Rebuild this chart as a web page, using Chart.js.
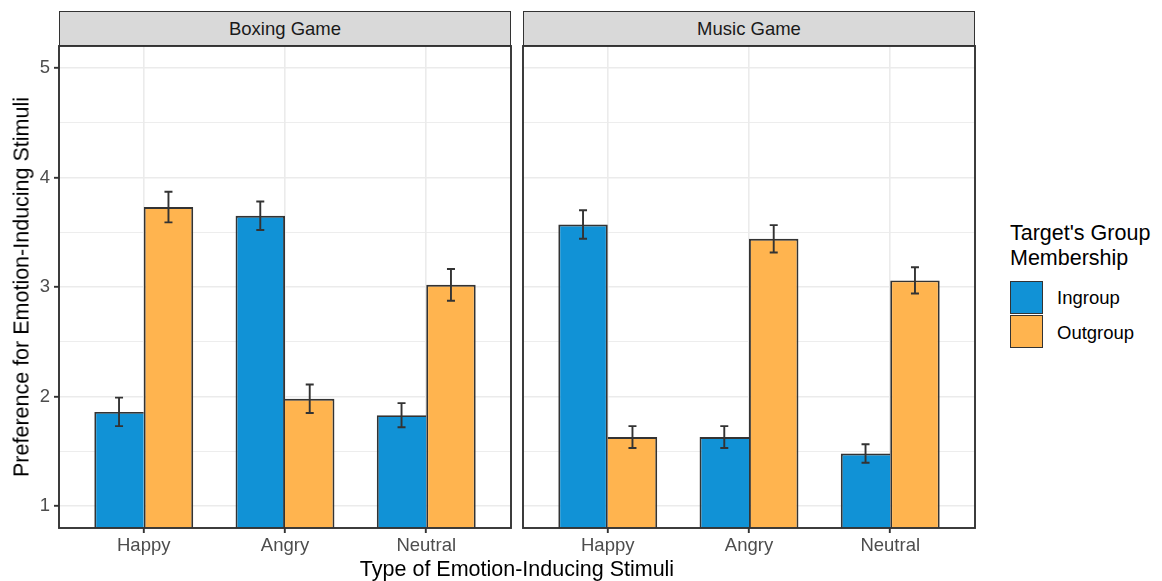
<!DOCTYPE html>
<html lang="en">
<head>
<meta charset="utf-8">
<title>Preference for Emotion-Inducing Stimuli</title>
<script src="https://cdn.jsdelivr.net/npm/chart.js"></script>
<style>
  body { margin: 0; background: #fff; font-family: "Liberation Sans", Arial, sans-serif; }
  #wrap { position: relative; width: 1162px; height: 581px; overflow: hidden; }
  canvas { position: absolute; }
  .strip {
    position: absolute; top: 11px; height: 33px; width: 450px;
    background: #d9d9d9; border: 1.6px solid #333;
    color: #1a1a1a; font-size: 18.5px; line-height: 33px; text-align: center;
  }
  .title { position: absolute; font-size: 21.5px; color: #000; white-space: nowrap; }
  .key { position: absolute; left: 1010px; width: 31px; height: 31px; border: 1.6px solid #333; }
  .keylab { position: absolute; left: 1057px; font-size: 18.5px; color: #000; }
</style>
</head>
<body>
<div id="wrap">
  <div class="strip" style="left:59px">Boxing Game</div>
  <div class="strip" style="left:523px">Music Game</div>

  <canvas id="boxing" width="514" height="537" style="left:0;top:44px"></canvas>
  <canvas id="music" width="457" height="537" style="left:521px;top:44px"></canvas>

  <div class="title" style="left:22px;top:287px;transform:translate(-50%,-50%) rotate(-90deg)">Preference for Emotion-Inducing Stimuli</div>
  <div class="title" style="left:517px;top:569px;transform:translate(-50%,-50%)">Type of Emotion-Inducing Stimuli</div>

  <div class="title" style="left:1010px;top:221px;line-height:25px">Target's Group<br>Membership</div>
  <div class="key" style="top:281px;background:#1192d6"></div>
  <div class="key" style="top:315px;background:#ffb44f"></div>
  <div class="keylab" style="top:287px">Ingroup</div>
  <div class="keylab" style="top:322px">Outgroup</div>
</div>

<script>
  // 数据
  const categories = ['Happy', 'Angry', 'Neutral'];
  const groups = ['Ingroup', 'Outgroup'];
  const yTicks = [1, 1.5, 2, 2.5, 3, 3.5, 4, 4.5, 5];

  const boxingIngroup = [1.86, 3.65, 1.83];
  const boxingIngroupErr = [0.13, 0.13, 0.11];
  const boxingOutgroup = [3.73, 1.98, 3.02];
  const boxingOutgroupErr = [0.14, 0.13, 0.145];

  const musicIngroup = [3.57, 1.63, 1.48];
  const musicIngroupErr = [0.13, 0.10, 0.085];
  const musicOutgroup = [1.63, 3.44, 3.06];
  const musicOutgroupErr = [0.10, 0.125, 0.12];

  const blue = '#1192d6';
  const orange = '#ffb44f';
  const dark = '#333333';
  const gridCol = '#ebebeb';
  const fontFamily = '"Liberation Sans", Arial, sans-serif';
  const lw = 1.9;

  // 误差线 + 面板边框
  const errorBarsAndBox = {
    id: 'errorBarsAndBox',
    afterDatasetsDraw(chart) {
      const ctx = chart.ctx;
      const yScale = chart.scales.y;
      ctx.save();
      ctx.strokeStyle = dark;
      ctx.lineWidth = lw;
      chart.data.datasets.forEach((ds, di) => {
        const meta = chart.getDatasetMeta(di);
        meta.data.forEach((bar, i) => {
          const v = ds.data[i].y;
          const e = ds.errors[i];
          const top = yScale.getPixelForValue(v + e);
          const bottom = yScale.getPixelForValue(v - e);
          ctx.beginPath();
          ctx.moveTo(bar.x, top);
          ctx.lineTo(bar.x, bottom);
          ctx.moveTo(bar.x - 4, top);
          ctx.lineTo(bar.x + 4, top);
          ctx.moveTo(bar.x - 4, bottom);
          ctx.lineTo(bar.x + 4, bottom);
          ctx.stroke();
        });
      });
      const a = chart.chartArea;
      ctx.strokeRect(a.left, a.top, a.right - a.left, a.bottom - a.top);
      ctx.restore();
    }
  };

  function toPoints(values) {
    return values.map((v, i) => ({ x: i + 1, y: v }));
  }

  function makePanel(canvasId, ing, ingErr, outg, outgErr, showY) {
    const ctx = document.getElementById(canvasId).getContext('2d');
    // 相邻两根柱子只画一条分隔线：由较高的那根画
    const inner = (mine, other) => c => {
      const i = c.dataIndex;
      return mine[i] >= other[i] ? lw : 0;
    };
    return new Chart(ctx, {
      type: 'bar',
      data: {
        datasets: [
          {
            label: groups[0], data: toPoints(ing), errors: ingErr, backgroundColor: blue,
            borderWidth: c => ({ top: lw, left: lw, bottom: 0, right: inner(ing, outg)(c) })
          },
          {
            label: groups[1], data: toPoints(outg), errors: outgErr, backgroundColor: orange,
            borderWidth: c => ({ top: lw, right: lw, bottom: 0, left: inner(outg, ing)(c) > 0 && outg[c.dataIndex] > ing[c.dataIndex] ? lw : 0 })
          }
        ].map(ds => Object.assign(ds, {
          borderColor: dark,
          borderSkipped: false,
          categoryPercentage: 0.7,
          barPercentage: 1.0
        }))
      },
      options: {
        responsive: false,
        animation: false,
        devicePixelRatio: 1,
        layout: { autoPadding: false, padding: { left: showY ? 0 : 2, right: 3, top: 2, bottom: 0 } },
        plugins: { legend: { display: false }, tooltip: { enabled: false } },
        scales: {
          x: {
            type: 'linear',
            min: 0.4,
            max: 3.6,
            offset: false,
            afterBuildTicks: scale => { scale.ticks = categories.map((c, i) => ({ value: i + 1 })); },
            afterFit: scale => {
              scale.height = 53;
              scale.paddingLeft = 0;
              scale.paddingRight = 0;
            },
            ticks: {
              autoSkip: false,
              maxRotation: 0,
              padding: 2,
              color: '#4d4d4d',
              font: { family: fontFamily, size: 18.5 },
              callback: v => categories[v - 1]
            },
            grid: { offset: false, color: gridCol, lineWidth: 1.6, tickColor: dark, tickLength: 5, tickWidth: lw },
            border: { display: false }
          },
          y: {
            min: 0.8,
            max: 5.2,
            afterBuildTicks: scale => { scale.ticks = yTicks.map(v => ({ value: v })); },
            afterFit: scale => {
              scale.width = showY ? 59 : 0;
              scale.paddingTop = 0;
              scale.paddingBottom = 0;
            },
            ticks: {
              display: showY,
              padding: 4,
              color: '#4d4d4d',
              font: { family: fontFamily, size: 18.5 },
              callback: v => Number.isInteger(v) ? v : ''
            },
            grid: {
              color: gridCol,
              lineWidth: c => Number.isInteger(c.tick.value) ? 1.6 : 0.9,
              drawTicks: showY,
              tickLength: 5,
              tickWidth: lw,
              tickColor: c => Number.isInteger(c.tick.value) ? dark : 'rgba(0,0,0,0)'
            },
            border: { display: false }
          }
        }
      },
      plugins: [errorBarsAndBox]
    });
  }

  makePanel('boxing', boxingIngroup, boxingIngroupErr, boxingOutgroup, boxingOutgroupErr, true);
  makePanel('music', musicIngroup, musicIngroupErr, musicOutgroup, musicOutgroupErr, false);
</script>
</body>
</html>
